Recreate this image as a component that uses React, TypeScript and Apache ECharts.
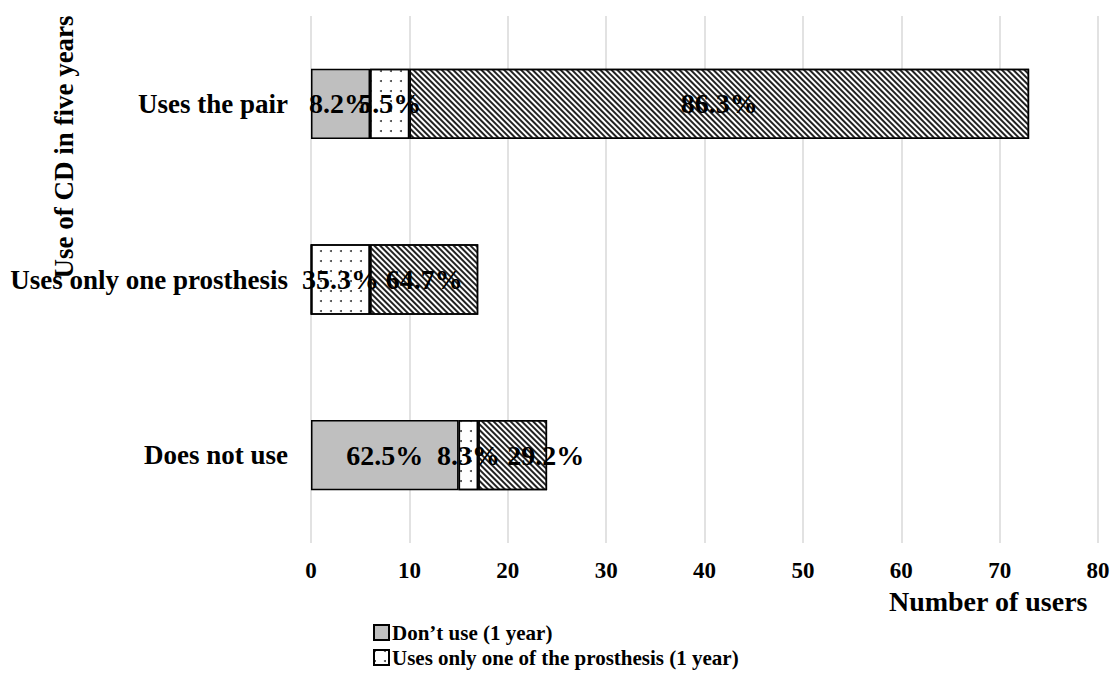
import React, { useEffect, useRef } from "react";
import * as echarts from "echarts";

const categories = ["Does not use", "Uses only one prosthesis", "Uses the pair"];
const seriesNames = [
  "Don’t use (1 year)",
  "Uses only one of the prosthesis (1 year)",
  "Uses the pair (1 year)",
];
const legendShown = [seriesNames[0], seriesNames[1]];
const dontUse = [15, 0, 6];
const usesOne = [2, 6, 4];
const usesPair = [7, 11, 63];
const xTicks = [0, 10, 20, 30, 40, 50, 60, 70, 80];

const FONT = "'Liberation Serif', 'Times New Roman', serif";

export default function App() {
  const ref = useRef<HTMLDivElement>(null);
  useEffect(() => {
    if (!ref.current) return;
    const chart = echarts.init(ref.current, undefined, { renderer: "svg" });
    const all = [dontUse, usesOne, usesPair];
    const totals = categories.map((_, i) => all.reduce((s, a) => s + a[i], 0));
    const labelFmt = (p: any) => {
      const v = p.value as number;
      if (!v) return "";
      return ((v / totals[p.dataIndex]) * 100).toFixed(1) + "%";
    };
    const baseLabel = {
      show: true,
      position: "inside",
      color: "#000",
      fontFamily: FONT,
      fontWeight: "bold",
      fontSize: 28,
      formatter: labelFmt,
    };
    const border = { borderColor: "#000", borderWidth: 1.5 };
    const option: any = {
      animation: false,
      grid: { left: 311, right: 18, top: 16, bottom: 130, containLabel: false },
      legend: {
        orient: "vertical",
        left: 373,
        top: 622,
        height: 60,
        padding: 0,
        itemWidth: 15,
        itemHeight: 15,
        itemGap: 4,
        icon: "rect",
        data: legendShown,
        textStyle: {
          fontFamily: FONT,
          fontWeight: "bold",
          fontSize: 21,
          lineHeight: 21,
          color: "#000",
          padding: [0, 0, 0, -2],
        },
      },
      xAxis: {
        type: "value",
        min: 0,
        max: 80,
        interval: 10,
        axisLine: { show: false },
        axisTick: { show: false },
        splitLine: { show: true, lineStyle: { color: "#d9d9d9", width: 1.5 } },
        axisLabel: {
          color: "#000",
          fontFamily: FONT,
          fontWeight: "bold",
          fontSize: 23,
          margin: 16,
          formatter: (v: number) => (xTicks.includes(v) ? String(v) : ""),
        },
      },
      yAxis: {
        type: "category",
        data: categories,
        axisLine: { show: false },
        axisTick: { show: false },
        axisLabel: {
          color: "#000",
          fontFamily: FONT,
          fontWeight: "bold",
          fontSize: 27,
          margin: 23,
        },
      },
      graphic: [
        {
          type: "text",
          x: 64,
          y: 147,
          rotation: Math.PI / 2,
          style: {
            text: "Use of CD in five years",
            fontFamily: FONT,
            fontWeight: "bold",
            fontSize: 27,
            fill: "#000",
            align: "center",
            verticalAlign: "middle",
          },
        },
        {
          type: "text",
          right: 28,
          top: 587,
          style: {
            text: "Number of users",
            fontFamily: FONT,
            fontWeight: "bold",
            fontSize: 28,
            fill: "#000",
          },
        },
      ],
      series: [
        {
          name: seriesNames[0],
          type: "bar",
          stack: "total",
          barWidth: "40%",
          data: dontUse,
          itemStyle: { color: "#bfbfbf", ...border },
          label: baseLabel,
        },
        {
          name: seriesNames[1],
          type: "bar",
          stack: "total",
          data: usesOne,
          itemStyle: {
            color: "#ffffff",
            ...border,
            decal: {
              symbol: "circle",
              symbolSize: 1,
              color: "#444",
              dashArrayX: [2, 8],
              dashArrayY: [2, 8],
            },
          },
          label: baseLabel,
        },
        {
          name: seriesNames[2],
          type: "bar",
          stack: "total",
          data: usesPair.map((v, i) =>
            i === 0 ? { value: v, label: { offset: [33, 0] } } : v
          ),
          itemStyle: {
            color: "#ffffff",
            ...border,
            decal: {
              symbol: "rect",
              symbolSize: 1,
              color: "#222",
              dashArrayX: [1, 0],
              dashArrayY: [1.6, 2],
              rotation: Math.PI / 4,
            },
          },
          label: baseLabel,
        },
      ],
    };
    chart.setOption(option);
    return () => chart.dispose();
  }, []);
  return (
    <div
      ref={ref}
      style={{ position: "fixed", left: 0, top: 0, width: 1116, height: 673, background: "#fff" }}
    />
  );
}
